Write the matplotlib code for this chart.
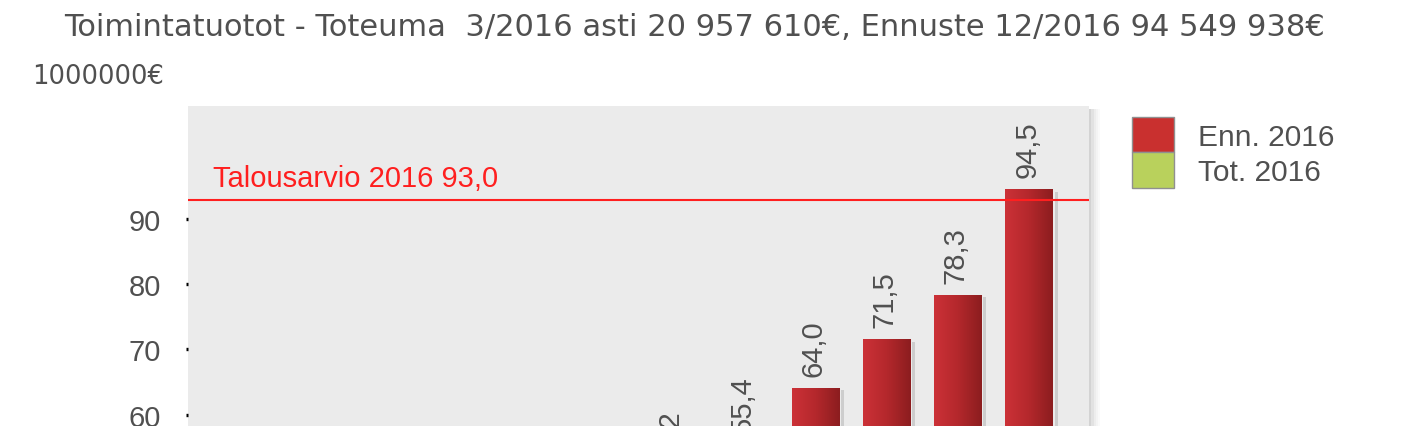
import numpy as np
import matplotlib
matplotlib.use('Agg')
from matplotlib import pyplot as plt
from matplotlib.colors import LinearSegmentedColormap
from matplotlib.patches import Patch

months = ['Tammi', 'Helmi', 'Maalis', 'Huhti', 'Touko', 'Kesä',
          'Heinä', 'Elo', 'Syys', 'Loka', 'Marras', 'Joulu']
tot_2016 = [7.0, 13.9, 21.0, None, None, None, None, None, None, None, None, None]
enn_2016 = [None, None, None, 28.0, 35.2, 42.6, 50.2, 55.4, 64.0, 71.5, 78.3, 94.5]
budget = 93.0
y_ticks = [60, 70, 80, 90]

title = 'Toimintatuotot - Toteuma  3/2016 asti 20 957 610€, Ennuste 12/2016 94 549 938€'
unit = '1000000€'
budget_label = 'Talousarvio 2016 93,0'
legend_labels = ['Enn. 2016', 'Tot. 2016']

red = '#c9302f'
green = '#b9d15c'
txt = '#505050'
font = 'Liberation Sans'

fig = plt.figure(figsize=(14.16, 4.27), dpi=100)
ax = fig.add_axes([0.133, 0.0, 0.6361, 0.7501])
ax.set_facecolor('#ebebeb')
for s in ax.spines.values():
    s.set_visible(False)

ylo, yhi = 58.24, 107.45

x = np.arange(len(months))
w = 0.674
enn_vals = [v if v is not None else 0 for v in enn_2016]
tot_vals = [v if v is not None else 0 for v in tot_2016]
b_enn = ax.bar(x, enn_vals, width=w, color=red, zorder=2)
b_tot = ax.bar(x, tot_vals, width=w, color=green, zorder=2)

# left-to-right shading on the bars
red_grad = LinearSegmentedColormap.from_list('rg', ['#cc3137', '#b4282c', '#8c1d1f'])
grad = np.linspace(0, 1, 64).reshape(1, -1)
for rect, v in zip(b_enn, enn_2016):
    if v is None:
        continue
    ax.imshow(grad, extent=[rect.get_x(), rect.get_x() + rect.get_width(), 0, rect.get_height()],
              aspect='auto', cmap=red_grad, zorder=3)
    # small shadow right of bar
    ax.bar(rect.get_x() + rect.get_width() + 0.02, rect.get_height() - 0.3, width=0.04,
           align='edge', color='#cdcdcd', zorder=1.5)
    # labels of the low months lie wholly below the visible part, skip them
    if v < ylo - 10:
        continue
    ax.annotate(f'{v:.1f}'.replace('.', ','), xy=(rect.get_x() + rect.get_width() / 2, v),
                xytext=(-1.5, 9), textcoords='offset points', rotation=90,
                ha='center', va='bottom', fontsize=21, color=txt, family=font, zorder=4,
                annotation_clip=False)

ax.axhline(budget, color='#ff1f1f', lw=1.5, zorder=4)
ax.annotate(budget_label, xy=(0.0278, budget), xycoords=('axes fraction', 'data'),
            xytext=(0, 10), textcoords='offset points', ha='left', va='baseline',
            fontsize=21, color='#ff1f1f', family=font)

ax.set_xlim(-0.81, 11.84)
ax.set_ylim(ylo, yhi)
ax.set_yticks(y_ticks)
ax.set_yticklabels([str(t) for t in y_ticks], family=font, fontsize=21, color=txt)
ax.tick_params(axis='y', direction='out', length=1.8, width=2.4, color='black', pad=18)
ax.tick_params(axis='x', bottom=False, labelbottom=False)

# drop shadow on the right of the plot area
for i, a in enumerate([0.3, 0.2, 0.12, 0.07, 0.03]):
    ax.add_patch(plt.Rectangle((1.0 + i * 0.0025, 0), 0.0025, 0.99, transform=ax.transAxes,
                               color='#707070', alpha=a, lw=0, clip_on=False))

fig.text(694.5 / 1416, 1 - 36 / 427, title, ha='center', va='baseline',
         fontsize=22, color=txt, family='DejaVu Sans')
fig.text(32 / 1416, 1 - 84 / 427, unit, ha='left', va='baseline',
         fontsize=18.5, color=txt, family='DejaVu Sans')

handles = [Patch(facecolor=red, edgecolor='#909090'), Patch(facecolor=green, edgecolor='#909090')]
fig.legend(handles, legend_labels, loc='upper left', bbox_to_anchor=(1131.7 / 1416, 1 - 118 / 427),
           frameon=False, borderpad=0, borderaxespad=0, labelspacing=0,
           handlelength=1.41, handleheight=1.45, handletextpad=0.82,
           prop={'family': font, 'size': 21.5}, labelcolor=txt)

fig.savefig('out.png', dpi=100)
